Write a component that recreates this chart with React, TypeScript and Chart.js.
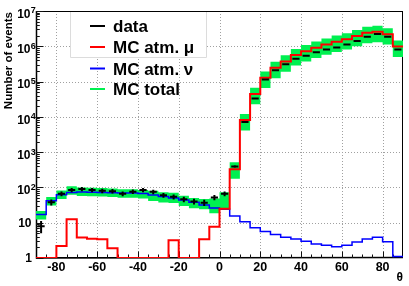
import React, { useEffect, useRef } from "react";
import { Chart, registerables } from "chart.js";

Chart.register(...registerables);

// ---- data ----
const THETA_EDGES = [
  -90, -85, -80, -75, -70, -65, -60, -55, -50, -45, -40, -35, -30, -25, -20, -15, -10, -5,
  0, 5, 10, 15, 20, 25, 30, 35, 40, 45, 50, 55, 60, 65, 70, 75, 80, 85, 90,
];

const DATA_COUNTS = [
  8, 38, 66, 84, 90, 84, 80, 78, 66, 76, 84, 75, 60, 54, 46, 40, 37, 52,
  66, 390, 7200, 33000, 115000, 210000, 310000, 440000, 540000, 680000, 810000, 930000,
  1120000, 1410000, 1860000, 2240000, 1860000, 810000,
];

const MC_ATM_MU = [
  0, 0, 2.2, 12.5, 3.8, 3.5, 3.4, 1.9, 0, 0, 0, 0, 0, 3.2, 0, 0, 3.4, 7.7,
  25, 330, 8100, 44700, 129000, 245000, 372000, 562000, 724000, 912000, 1120000, 1350000,
  1580000, 1950000, 2400000, 2570000, 2190000, 980000,
];

const MC_ATM_NU = [
  17, 42, 62, 72, 74, 73, 72, 71, 70, 70, 67, 61, 55, 50, 44, 38, 32, 26,
  24, 15.5, 10.7, 7.2, 5.6, 4.6, 3.85, 3.45, 3.0, 2.5, 2.3, 2.1,
  2.3, 2.85, 3.45, 3.85, 2.9, 1.1,
];

const MC_TOTAL_REL_ERR = [
  0.27, 0.27, 0.27, 0.27, 0.27, 0.27, 0.27, 0.27, 0.27, 0.27, 0.27, 0.32, 0.32, 0.32, 0.32, 0.32, 0.32, 0.45,
  0.5, 0.49, 0.49, 0.49, 0.49, 0.49, 0.49, 0.49, 0.49, 0.49, 0.49, 0.49,
  0.49, 0.49, 0.49, 0.49, 0.49, 0.49,
];

const X_TICK_LABELS = [-80, -60, -40, -20, 0, 20, 40, 60, 80];
const Y_DECADE_EXPONENTS = [0, 1, 2, 3, 4, 5, 6, 7];
const LEGEND_LABELS = ["data", "MC atm. \u03bc", "MC atm. \u03bd", "MC total"];
const X_TITLE = "\u03b8";
const Y_TITLE = "Number of events";

// ---- styles ----
const Y_MIN = 1;
const Y_MAX = 1e7;
const C_DATA = "#000000";
const C_MU = "#ff0000";
const C_NU = "#0000ff";
const C_TOTAL = "#00f050";
const FONT = '"Liberation Sans", Arial, Helvetica, sans-serif';
const SUPERS: Record<string, string> = {};

const clampY = (v: number) => Math.max(v, Y_MIN);
const stepPoints = (vals: number[]) =>
  THETA_EDGES.map((e, i) => ({ x: e, y: clampY(vals[Math.min(i, vals.length - 1)]) }));

const mcTotal = MC_ATM_MU.map((m, i) => m + MC_ATM_NU[i]);
const mcHigh = mcTotal.map((t, i) => t * (1 + MC_TOTAL_REL_ERR[i]));
const mcLow = mcTotal.map((t, i) => t * (1 - MC_TOTAL_REL_ERR[i]));

const textMid = (ctx: CanvasRenderingContext2D, s: string, x: number, cy: number, size: number) => {
  // place cap-height centre on cy
  ctx.fillText(s, x, cy + size * 0.358);
};

const rootPlugin = {
  id: "rootStyle",
  beforeDatasetsDraw(chart: any) {
    const { ctx, chartArea: a, scales } = chart;
    const x = scales.x;
    const y = scales.y;
    ctx.save();
    // grid
    ctx.strokeStyle = "#a0a0a0";
    ctx.lineWidth = 1;
    ctx.setLineDash([1, 2]);
    for (const t of X_TICK_LABELS) {
      const px = Math.round(x.getPixelForValue(t)) + 0.5;
      ctx.beginPath();
      ctx.moveTo(px, a.top);
      ctx.lineTo(px, a.bottom);
      ctx.stroke();
    }
    for (const e of Y_DECADE_EXPONENTS) {
      if (e === 0 || e === 7) continue;
      const py = Math.round(y.getPixelForValue(Math.pow(10, e))) + 0.5;
      ctx.beginPath();
      ctx.moveTo(a.left, py);
      ctx.lineTo(a.right, py);
      ctx.stroke();
    }
    ctx.setLineDash([]);
    // frame
    ctx.strokeStyle = "#000";
    ctx.lineWidth = 1;
    ctx.strokeRect(a.left + 0.5, a.top + 0.5, a.right - a.left - 1, a.bottom - a.top - 1);
    ctx.lineWidth = 1.5;
    ctx.beginPath();
    ctx.moveTo(a.left + 0.5, a.top);
    ctx.lineTo(a.left + 0.5, a.bottom);
    ctx.lineTo(a.right, a.bottom - 0.5);
    ctx.stroke();
    // y ticks (inside)
    ctx.lineWidth = 1;
    ctx.strokeStyle = "#111";
    for (let e = 0; e <= 6; e++) {
      for (let k = 1; k <= 9; k++) {
        const py = Math.round(y.getPixelForValue(k * Math.pow(10, e))) + 0.5;
        const len = k === 1 ? 7.5 : 3.8;
        ctx.beginPath();
        ctx.moveTo(a.left, py);
        ctx.lineTo(a.left + len, py);
        ctx.stroke();
      }
    }
    {
      const py = Math.round(y.getPixelForValue(Y_MAX)) + 0.5;
      ctx.beginPath();
      ctx.moveTo(a.left, py);
      ctx.lineTo(a.left + 7.5, py);
      ctx.stroke();
    }
    // x ticks (inside)
    for (let t = -85; t <= 85; t += 5) {
      const px = Math.round(x.getPixelForValue(t)) + 0.5;
      const len = t % 20 === 0 ? 6.5 : 3.5;
      ctx.beginPath();
      ctx.moveTo(px, a.bottom);
      ctx.lineTo(px, a.bottom - len);
      ctx.stroke();
    }
    ctx.restore();
  },
  afterDatasetsDraw(chart: any) {
    const { ctx, chartArea: a, scales } = chart;
    const x = scales.x;
    const y = scales.y;
    ctx.save();
    // data points with error bars
    ctx.strokeStyle = C_DATA;
    ctx.lineWidth = 2;
    DATA_COUNTS.forEach((n, i) => {
      if (n <= 0) return;
      const x0 = x.getPixelForValue(THETA_EDGES[i]);
      const x1 = x.getPixelForValue(THETA_EDGES[i + 1]);
      const cx = (x0 + x1) / 2;
      const hw = 0.35 * (x1 - x0);
      const py = y.getPixelForValue(n);
      const err = Math.sqrt(n);
      const pHi = y.getPixelForValue(n + err);
      const pLo = y.getPixelForValue(Math.max(n - err, Y_MIN));
      ctx.beginPath();
      ctx.moveTo(cx - hw, py);
      ctx.lineTo(cx + hw, py);
      ctx.moveTo(cx, pHi - 0.5);
      ctx.lineTo(cx, pLo + 0.5);
      ctx.stroke();
    });

    // tick labels
    ctx.fillStyle = "#000";
    ctx.font = `bold 12.5px ${FONT}`;
    ctx.textAlign = "center";
    for (const t of X_TICK_LABELS) {
      const px = x.getPixelForValue(t);
      textMid(ctx, String(t), px, 266.5, 12.5);
    }
    for (const e of Y_DECADE_EXPONENTS) {
      const py = y.getPixelForValue(Math.pow(10, e));
      ctx.textAlign = "right";
      if (e === 0) {
        ctx.font = `bold 12px ${FONT}`;
        textMid(ctx, "1", 32, py - 0.5, 12);
      } else if (e === 1) {
        ctx.font = `bold 12px ${FONT}`;
        textMid(ctx, "10", 31.5, py, 12);
      } else {
        ctx.font = `bold 12px ${FONT}`;
        textMid(ctx, "10", 30.5, py + 2.5, 12);
        ctx.textAlign = "left";
        ctx.font = `bold 9px ${FONT}`;
        textMid(ctx, String(e), 30.8, py - 0.8, 9);
      }
    }
    // axis titles
    ctx.font = `bold 12px ${FONT}`;
    ctx.textAlign = "right";
    textMid(ctx, X_TITLE, a.right, 277, 12);
    ctx.save();
    ctx.translate(8, a.top + 1);
    ctx.rotate(-Math.PI / 2);
    ctx.font = `bold 11.5px ${FONT}`;
    ctx.textAlign = "right";
    textMid(ctx, Y_TITLE, 0, 0, 11.5);
    ctx.restore();

    // legend
    const boxL = 70, boxR = 206, boxB = 57;
    ctx.fillStyle = "#fff";
    ctx.fillRect(boxL, a.top + 1, boxR - boxL, boxB - a.top - 1);
    ctx.strokeStyle = "#dcdcdc";
    ctx.lineWidth = 1;
    ctx.beginPath();
    ctx.moveTo(boxL + 0.5, a.top + 1);
    ctx.lineTo(boxL + 0.5, boxB + 0.5);
    ctx.lineTo(boxR + 0.5, boxB + 0.5);
    ctx.lineTo(boxR + 0.5, a.top + 1);
    ctx.stroke();
    const rowY = [26, 47, 68.5, 89];
    const rowC = [C_DATA, C_MU, C_NU, C_TOTAL];
    ctx.font = `bold 17px ${FONT}`;
    ctx.textAlign = "left";
    LEGEND_LABELS.forEach((lab, i) => {
      ctx.strokeStyle = rowC[i];
      ctx.lineWidth = 2;
      ctx.beginPath();
      ctx.moveTo(90, rowY[i]);
      ctx.lineTo(105, rowY[i]);
      ctx.stroke();
      ctx.fillStyle = "#000";
      textMid(ctx, lab, 113, rowY[i], 17);
    });
    ctx.restore();
  },
};

export default function App() {
  const ref = useRef<HTMLCanvasElement | null>(null);
  useEffect(() => {
    if (!ref.current) return;
    const chart = new Chart(ref.current, {
      type: "line",
      data: {
        datasets: [
          {
            label: LEGEND_LABELS[1],
            data: stepPoints(MC_ATM_MU),
            borderColor: C_MU,
            borderWidth: 2,
            stepped: "before",
            pointRadius: 0,
            fill: false,
          },
          {
            label: LEGEND_LABELS[2],
            data: stepPoints(MC_ATM_NU),
            borderColor: C_NU,
            borderWidth: 1.5,
            stepped: "before",
            pointRadius: 0,
            fill: false,
          },
          {
            label: LEGEND_LABELS[3],
            data: stepPoints(mcHigh),
            borderColor: "rgba(0,0,0,0)",
            backgroundColor: C_TOTAL,
            borderWidth: 0,
            stepped: "before",
            pointRadius: 0,
            fill: "+1",
          },
          {
            label: "MC total low",
            data: stepPoints(mcLow),
            borderColor: "rgba(0,0,0,0)",
            borderWidth: 0,
            stepped: "before",
            pointRadius: 0,
            fill: false,
          },
        ],
      },
      options: {
        responsive: false,
        animation: false,
        layout: { padding: { left: 36, top: 11, right: 6, bottom: 28 } },
        scales: {
          x: { type: "linear", min: -90, max: 90, display: false },
          y: { type: "logarithmic", min: Y_MIN, max: Y_MAX, display: false },
        },
        plugins: { legend: { display: false }, tooltip: { enabled: false } },
        elements: { point: { radius: 0 } },
      },
      plugins: [rootPlugin],
    } as any);
    return () => chart.destroy();
  }, []);
  return (
    <div style={{ position: "fixed", left: 0, top: 0, width: 409, height: 286, background: "#fff" }}>
      <canvas ref={ref} width={409} height={286} style={{ display: "block", width: 409, height: 286 }} />
    </div>
  );
}
